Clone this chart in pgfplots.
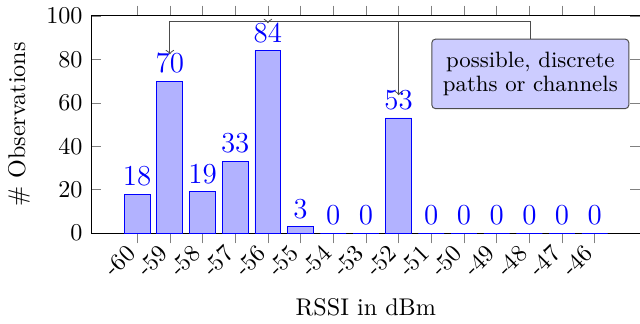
\documentclass[border=0pt]{standalone}
\usepackage{pgfplots}
\pgfplotsset{compat=1.18}
\begin{document}
\begin{tikzpicture}
\begin{axis}[
  name=ax,
  scale only axis,
  width=227.5pt, height=90pt,
  ybar, bar width=10.7pt,
  xmin=-61.41, xmax=-44.6,
  ymin=0, ymax=100,
  ytick={0,20,40,60,80,100},
  xtick=data,
  xticklabels={-60,-59,-58,-57,-56,-55,-54,-53,-52,-51,-50,-49,-48,-47,-46},
  xticklabel style={rotate=45, anchor=east},
  xtick align=outside,
  major tick style={gray},
  xlabel={RSSI in dBm},
  ylabel={\# Observations},
  nodes near coords,
  every node near coord/.append style={blue, font=\fontsize{11.5}{13}\selectfont},
  clip=false,
]
\addplot[draw=blue, fill=blue!30] coordinates {
(-60,18) (-59,70) (-58,19) (-57,33) (-56,84) (-55,3) (-54,0) (-53,0)
(-52,53) (-51,0) (-50,0) (-49,0) (-48,0) (-47,0) (-46,0)};
\node[draw=black!70, fill=blue!20, rounded corners=1.5pt, align=center,
      font=\fontsize{9.2}{10}\selectfont, inner xsep=4.6pt, inner ysep=5.3pt]
      (box) at (axis cs:-47.97,73.3) {possible, discrete\\paths or channels};
\draw[->, black!70] (box.north) |- (axis cs:-59,97.6) -- (axis cs:-59,82.3);
\draw[->, black!70] (axis cs:-56,97.6) -- (axis cs:-56,96.6);
\draw[->, black!70] (axis cs:-52,97.6) -- (axis cs:-52,63.5);
\end{axis}
\pgfresetboundingbox
\path[use as bounding box] (ax.outer south west) rectangle ([xshift=-0.2pt]ax.outer north east -| ax.east);
\end{tikzpicture}
\end{document}
